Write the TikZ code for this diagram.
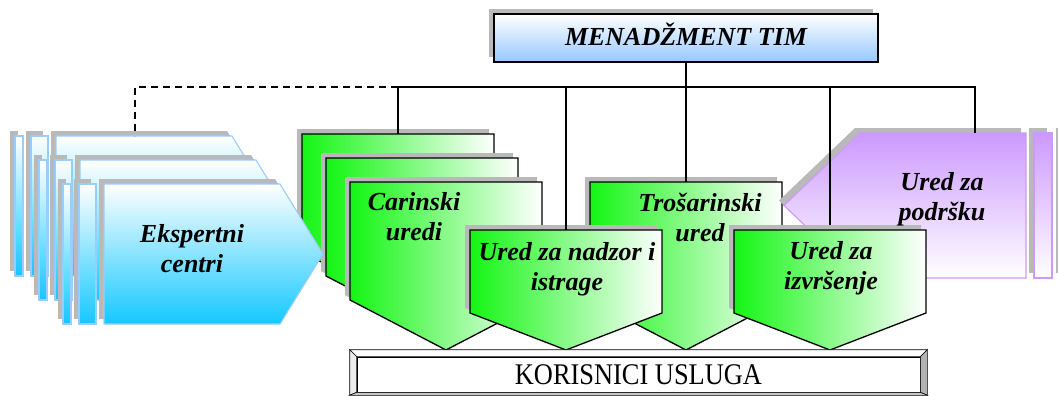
\documentclass[tikz,border=0pt]{standalone}
\usepackage{fontspec}
\setmainfont{Liberation Serif}
\newfontfamily\narrowserif[FakeStretch=0.88]{Liberation Serif}
\usetikzlibrary{shadows}

\definecolor{greenleft}{RGB}{20,245,20}
\definecolor{skyedge}{RGB}{153,204,255}
\definecolor{skybottom}{RGB}{20,200,255}
\definecolor{mtbottom}{RGB}{150,200,255}
\definecolor{violettop}{RGB}{204,153,255}

\begin{document}
\begin{tikzpicture}[x=1pt, y=-1pt,
    shadowed/.style={general shadow={fill=gray!55, shadow xshift=-5pt, shadow yshift=5pt}},
    office/.style={shadowed, draw=black, line width=1.3pt, left color=greenleft, right color=white},
    expert/.style={shadowed, draw=skyedge, line width=1.1pt, top color=white, bottom color=skybottom},
    support/.style={shadowed, draw=violettop, line width=1.1pt, top color=violettop, bottom color=white},
    unittext/.style={align=center, font=\fontsize{26}{30}\selectfont\bfseries\itshape},
    link/.style={line width=1.3pt},
    bevel/.style={draw=black, line width=0.6pt}
  ]
  \useasboundingbox (0,0) rectangle (1058,396);
  \clip (0,0) rectangle (1058,396);

  % management team
  \node[shadowed, draw, line width=1.5pt, top color=white, bottom color=mtbottom,
        minimum width=384pt, minimum height=48pt, inner sep=0pt, text height=16pt, text depth=0pt,
        font=\fontsize{26}{30}\selectfont\bfseries\itshape] (mt) at (686,38) {MENADŽMENT TIM};

  % customs offices, back stack
  \foreach \px/\py/\nm in {302/134/ca, 326/158/cb, 350/182/cc}{
    \path[office] (\px,\py) -- ++(192,0) -- ++(0,118) -- ++(-96,50) -- ++(-96,-50) -- cycle;
    \coordinate (\nm-top) at (\px+96,\py);
  }

  % expert centres
  \foreach \o in {0,24,48}{
    \path[expert] (15+\o,136+\o) rectangle ++(8,140);
    \path[expert] (31+\o,136+\o) rectangle ++(17,140);
    \path[expert] (56+\o,136+\o) -- ++(176,0) -- ++(43,70) -- ++(-43,70) -- ++(-176,0) -- cycle;
  }
  \coordinate (ek-top) at (135,136);

  % excise office and investigation office
  \path[office] (590,182) -- ++(192,0) -- ++(0,118) -- ++(-96,50) -- ++(-96,-50) -- cycle;
  \coordinate (tro-top) at (686,182);
  \path[office] (470,230) -- ++(192,0) -- ++(0,83) -- ++(-96,37) -- ++(-96,-37) -- cycle;
  \coordinate (nad-top) at (566,230);

  % support office
  \path[support] (860,133) -- (1026,133) -- (1026,278) -- (860,278) -- (784,205.5) -- cycle;
  \path[support] (1034,133) rectangle (1052,278);
  \path[support] (1061,133) rectangle (1070,278);
  \coordinate (pod-top) at (975,133);
  \coordinate (izv-top) at (830,230);

  % connectors
  \coordinate (bar) at (686,87);
  \draw[link] (mt.south) -- (bar);
  \draw[link] (ca-top) -- (ca-top |- bar) -- (pod-top |- bar) -- (pod-top);
  \draw[link] (nad-top) -- (nad-top |- bar);
  \draw[link] (tro-top) -- (tro-top |- bar);
  \draw[link] (izv-top) -- (izv-top |- bar);
  \draw[link, dash pattern=on 7pt off 5pt] (ca-top |- bar) -| (ek-top);

  % enforcement office
  \path[office] (734,230) -- ++(192,0) -- ++(0,83) -- ++(-96,37) -- ++(-96,-37) -- cycle;

  \node[unittext] (ek) at (192,249) {Ekspertni\\centri};
  \node[unittext] (ca) at (414,217) {Carinski\\uredi};
  \node[unittext] (nad) at (567,269) {Ured za nadzor i\\istrage};
  \node[unittext] (tro) at (700,217) {Trošarinski\\ured};
  \node[unittext] (izv) at (831,268) {Ured za\\izvršenje};
  \node[unittext] (pod) at (942,199) {Ured za\\podršku};

  % users button
  \node[draw=black, line width=0.6pt, fill=white, minimum width=563pt, minimum height=35pt,
        inner sep=0pt, text height=20pt, text depth=0pt,
        font=\narrowserif\fontsize{30}{32}\selectfont] (us) at (638.5,374.5) {KORISNICI USLUGA};
  \path (us.north west) ++(-7,-7) coordinate (bnw);
  \path (us.north east) ++(7,-7) coordinate (bne);
  \path (us.south east) ++(7,3) coordinate (bse);
  \path (us.south west) ++(-7,3) coordinate (bsw);
  \filldraw[bevel, fill=white] (bnw) -- (bne) -- (us.north east) -- (us.north west) -- cycle;
  \filldraw[bevel, fill=gray!15] (bnw) -- (us.north west) -- (us.south west) -- (bsw) -- cycle;
  \filldraw[bevel, fill=gray!60] (bne) -- (bse) -- (us.south east) -- (us.north east) -- cycle;
  \filldraw[bevel, fill=gray!45] (bsw) -- (us.south west) -- (us.south east) -- (bse) -- cycle;
\end{tikzpicture}
\end{document}
